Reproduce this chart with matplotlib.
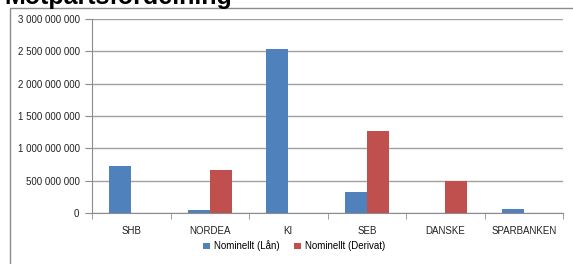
import numpy as np
import matplotlib
matplotlib.use("Agg")
import matplotlib.pyplot as plt
import matplotlib.ticker as ticker
from matplotlib.patches import Rectangle

banks = ["SHB", "NORDEA", "KI", "SEB", "DANSKE", "SPARBANKEN"]
lan = [725e6, 50e6, 2540e6, 330e6, 0, 60e6]
derivat = [0, 670e6, 0, 1270e6, 490e6, 0]
series_names = ["Nominellt (Lån)", "Nominellt (Derivat)"]
colors = ["#4F81BD", "#C0504D"]

plt.rcParams['font.family'] = ['Liberation Sans', 'DejaVu Sans']

def fmt(x, pos):
    """thousand separator as space"""
    return '{:,.0f}'.format(x).replace(',', ' ')

fig = plt.figure(figsize=(5.73, 2.64), dpi=100)
ax = fig.add_axes([92/573, 1-213/264, (563-92)/573, (213-19)/264])

# outer chart frame (runs off the image on right and bottom)
fig.patches.append(Rectangle((10/573, -0.1), 1.2, 1 + 0.1 - 8/264, transform=fig.transFigure,
                             fill=False, edgecolor="#8c8c8c", linewidth=1.0))

fig.text(4/573, 1 - 4/264, "Motpartsfördelning", fontsize=18, fontweight="bold",
         va="baseline", ha="left")

x = np.arange(len(banks))
w = 0.28
ax.bar(x - w/2, lan, w, color=colors[0], label=series_names[0], zorder=3)
ax.bar(x + w/2, derivat, w, color=colors[1], label=series_names[1], zorder=3)

ax.set_xlim(-0.5, len(banks) - 0.5)
ax.set_ylim(0, 3e9)
ax.yaxis.set_major_locator(ticker.MultipleLocator(5e8))
ax.yaxis.set_major_formatter(ticker.FuncFormatter(fmt))
ax.grid(axis='y', color="#a0a0a0", linewidth=1.0, zorder=0)

ax.set_xticks(x)
ax.set_xticklabels(banks)
ax.set_xticks(np.arange(-0.5, len(banks)), minor=True)
ax.tick_params(axis='x', which='major', length=0, pad=9, labelsize=7, labelcolor="#222222")
ax.tick_params(axis='x', which='minor', length=4, color="#8c8c8c", direction='out')
ax.tick_params(axis='y', length=5, color="#8c8c8c", labelsize=7, labelcolor="#222222", pad=4)

for s in ["top", "right"]:
    ax.spines[s].set_visible(False)
ax.spines["left"].set_color("#8c8c8c")
ax.spines["bottom"].set_color("#8c8c8c")

ax.legend(loc="center", bbox_to_anchor=((294-92)/471, (213-246)/194), ncol=2, frameon=False,
          fontsize=7, handlelength=0.7, handleheight=0.7, handletextpad=0.4, columnspacing=1.5)

fig.savefig("out.png", dpi=100)
